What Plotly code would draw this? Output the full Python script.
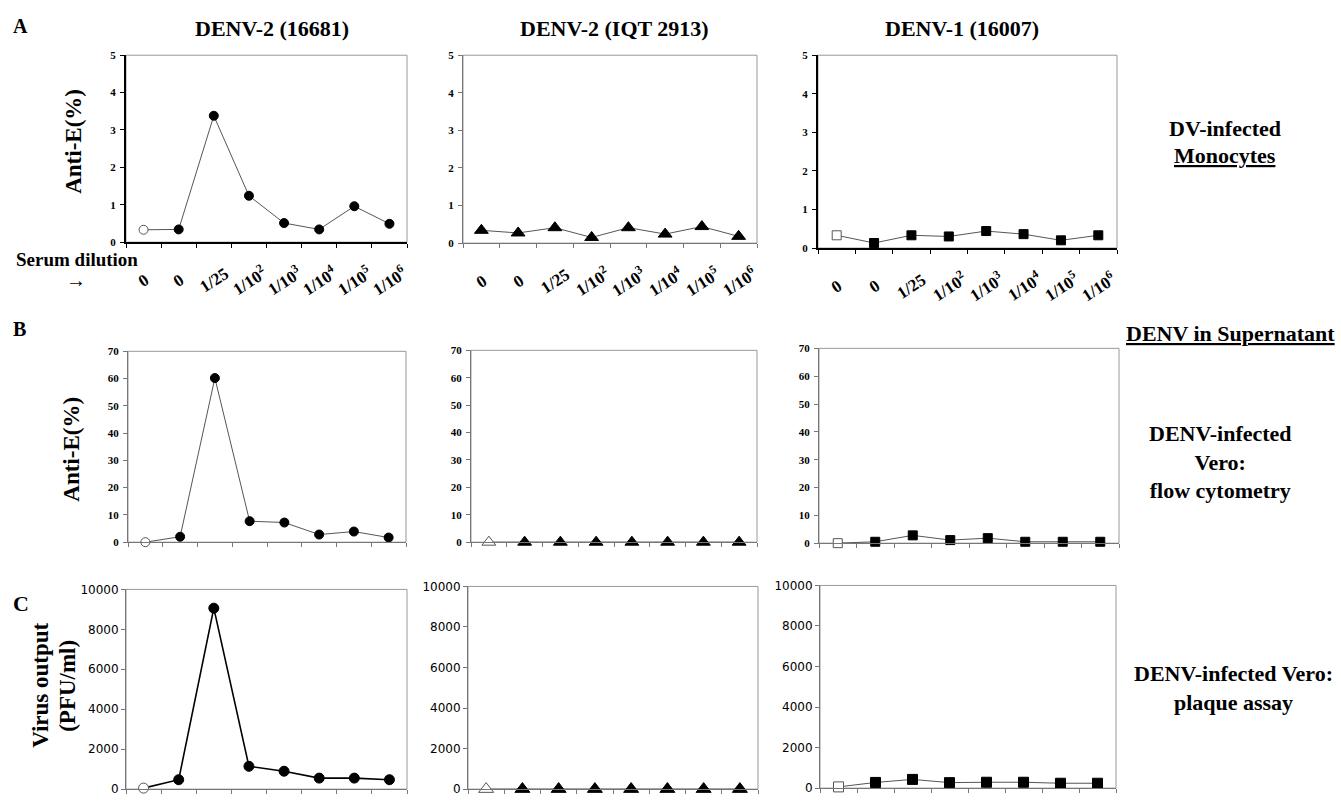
import plotly.graph_objects as go

# ---------------- data ----------------
categories = ["0", "0", "1/25", "1/10<sup>2</sup>", "1/10<sup>3</sup>",
              "1/10<sup>4</sup>", "1/10<sup>5</sup>", "1/10<sup>6</sup>"]

col_titles = ["DENV-2 (16681)", "DENV-2 (IQT 2913)", "DENV-1 (16007)"]

# Row A: DV-infected monocytes, Anti-E (%)
a_16681 = [0.33, 0.34, 3.38, 1.24, 0.51, 0.34, 0.96, 0.49]
a_iqt = [0.34, 0.27, 0.41, 0.15, 0.41, 0.24, 0.44, 0.18]
a_16007 = [0.33, 0.13, 0.33, 0.30, 0.44, 0.36, 0.20, 0.33]

# Row B: DENV-infected Vero, flow cytometry, Anti-E (%)
b_16681 = [0.0, 2.0, 60.2, 7.7, 7.2, 2.8, 3.9, 1.7]
b_iqt = [0.0, 0.0, 0.0, 0.0, 0.0, 0.0, 0.0, 0.0]
b_16007 = [0.0, 0.5, 2.8, 1.1, 1.8, 0.5, 0.5, 0.5]

# Row C: DENV-infected Vero, plaque assay, PFU/ml
c_16681 = [50, 470, 9060, 1140, 895, 550, 550, 470]
c_iqt = [0, 0, 0, 0, 0, 0, 0, 0]
c_16007 = [60, 280, 430, 270, 290, 290, 240, 240]

rows = [
    [a_16681, a_iqt, a_16007],
    [b_16681, b_iqt, b_16007],
    [c_16681, c_iqt, c_16007],
]
first_open = [
    [True, False, True],
    [True, True, True],
    [True, True, True],
]
y_max = [5, 70, 10000]
y_dtick = [1, 10, 2000]
symbols = ["circle", "triangle-up", "square"]
marker_sizes = [9, 12, 9]

W, H = 1341, 801
boxes = [
    [(126, 407, 49, 239), (463, 757, 49, 240), (818, 1117, 49, 245)],
    [(128, 406, 350, 544), (471, 757, 349, 544), (819, 1119, 347, 545)],
    [(126, 407, 592, 795), (468, 758, 589, 795), (820, 1116, 588, 794)],
]

SERIF = "Liberation Serif, Times New Roman, serif"
SANS = "DejaVu Sans, Verdana, sans-serif"

fig = go.Figure()
layout = dict(
    width=W, height=H, margin=dict(l=0, r=0, t=0, b=0),
    paper_bgcolor="white", plot_bgcolor="white", showlegend=False,
    shapes=[], annotations=[],
)

n = len(categories)
xs = [i + 1 for i in range(n)]
boundaries = [i + 0.5 for i in range(n + 1)]

k = 0
for r in range(3):
    for c in range(3):
        k += 1
        xa = "x" if k == 1 else f"x{k}"
        ya = "y" if k == 1 else f"y{k}"
        xl = "xaxis" if k == 1 else f"xaxis{k}"
        yl = "yaxis" if k == 1 else f"yaxis{k}"
        x0, x1, y0, y1 = boxes[r][c]
        vals = rows[r][c]
        if first_open[r][c]:
            fill = ["white"] + ["black"] * (n - 1)
            edge = ["#555"] + ["black"] * (n - 1)
        else:
            fill = ["black"] * n
            edge = ["black"] * n
        thick = (r == 2 and c == 0)
        fig.add_trace(go.Scatter(
            x=xs, y=vals, xaxis=xa, yaxis=ya, mode="lines+markers",
            line=dict(color="black" if thick else "#555", width=1.6 if thick else 1),
            marker=dict(symbol=symbols[c], size=marker_sizes[c] + (1 if r == 2 else 0),
                        color=fill, line=dict(color=edge, width=1)),
            cliponaxis=False, hoverinfo="skip",
        ))
        dark = (r == 0 and c in (0, 2))
        axis_col = "black" if dark else "#777"
        layout[xl] = dict(
            domain=[x0 / W, x1 / W], anchor=ya, range=[0.5, n + 0.5],
            showgrid=False, zeroline=False, fixedrange=True,
            showline=True, linecolor=axis_col, linewidth=1.5 if dark else 1,
            tickmode="array", tickvals=boundaries, ticks="outside",
            ticklen=4, tickcolor=axis_col, tickwidth=1, showticklabels=False,
        )
        layout[yl] = dict(
            domain=[1 - y1 / H, 1 - y0 / H], anchor=xa,
            range=[0, y_max[r]], dtick=y_dtick[r], tick0=0, tickformat="d",
            showgrid=False, zeroline=False, fixedrange=True,
            showline=True, linecolor=axis_col, linewidth=2 if dark else 1,
            ticks="outside", ticklen=4, tickcolor=axis_col,
            tickfont=(dict(family=SANS, size=12, color="black") if r == 2
                      else dict(family=SERIF, size=11, color="black", weight="bold")),
            ticklabelstandoff=2 if r < 2 else 0,
        )
        layout["shapes"].append(dict(
            type="rect", xref=f"{xa} domain", yref=f"{ya} domain",
            x0=0, x1=1, y0=0, y1=1, line=dict(color="#999", width=1),
            layer="below",
        ))
        if r == 0:
            for xv, lab in zip(xs, categories):
                layout["annotations"].append(dict(
                    text=f"<b>{lab}</b>", x=xv, y=0, xref=xa, yref=f"{ya} domain",
                    yshift=-38, showarrow=False, textangle=-33,
                    xanchor="center", yanchor="middle",
                    font=dict(family=SERIF, size=17, color="black"),
                ))


def ann(text, x, y, size, angle=0, xanchor="center", yanchor="middle", font=SERIF):
    layout["annotations"].append(dict(
        text=text, x=x / W, y=1 - y / H, xref="paper", yref="paper",
        showarrow=False, textangle=angle, xanchor=xanchor, yanchor=yanchor,
        font=dict(family=font, size=size, color="black"), align="center",
    ))


ann("<b>A</b>", 11, 19, 20, xanchor="left")
ann("<b>B</b>", 11, 327, 20, xanchor="left")
ann("<b>C</b>", 11, 606, 22, xanchor="left")

for title, cx in zip(col_titles, [272, 614, 962]):
    ann(f"<b>{title}</b>", cx, 22, 22)

ann("<b>Anti-E(%)</b>", 74, 137, 23, angle=-90)
ann("<b>Anti-E(%)</b>", 72, 450, 23, angle=-90)
ann("<b>Virus output</b>", 41, 690, 23, angle=-90)
ann("<b>(PFU/ml)</b>", 68, 690, 23, angle=-90)

ann("<b>Serum dilution</b>", 14, 257, 19, xanchor="left")
ann("→", 76, 277, 20)

ann("<b>DV-infected</b>", 1225, 123, 22)
ann("<b><u>Monocytes</u></b>", 1225, 151, 22)
ann("<b><u>DENV in Supernatant</u></b>", 1230, 332, 22)
ann("<b>DENV-infected<br>Vero:<br>flow cytometry</b>", 1220, 462, 22)
ann("<b>DENV-infected Vero:<br>plaque assay</b>", 1233, 692, 22)

fig.update_layout(**layout)
fig.write_html(
    "out.html",
    config={"displayModeBar": False, "responsive": False},
    post_script="document.body.style.margin='0';document.body.style.overflow='hidden';",
)
